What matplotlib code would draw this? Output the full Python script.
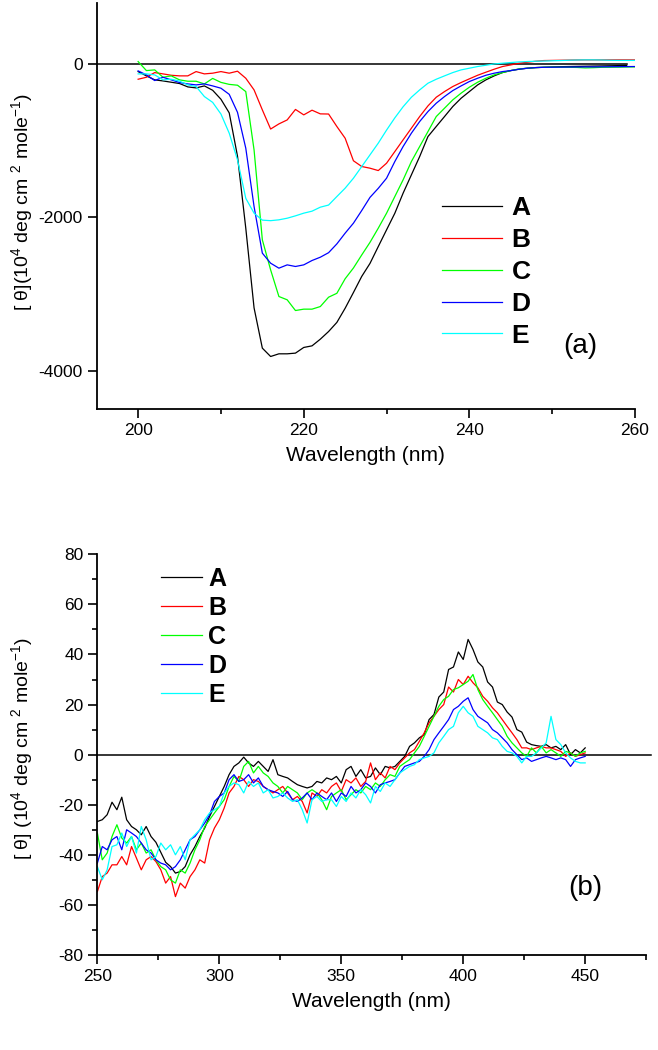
import numpy as np
import matplotlib.pyplot as plt
from matplotlib.ticker import MultipleLocator

plt.rcParams['font.family'] = ['Liberation Sans', 'DejaVu Sans']
plt.rcParams['mathtext.fontset'] = 'custom'
plt.rcParams['mathtext.rm'] = 'Liberation Sans'
plt.rcParams['mathtext.it'] = 'Liberation Sans:italic'
plt.rcParams['mathtext.bf'] = 'Liberation Sans:bold'
plt.rcParams['axes.unicode_minus'] = False

# (a) far-UV CD spectra, 1 nm steps
wl_a = np.arange(200, 261)
a_A = [-96, -152, -204, -218, -235, -252, -296, -309, -283, -340, -457, -635, -1200, -2140,
       -3180, -3706, -3815, -3780, -3780, -3771, -3697, -3676, -3589, -3489, -3370, -3185,
       -2980, -2770, -2600, -2380, -2162, -1945, -1683, -1444, -1205, -944, -813, -683, -552,
       -444, -357, -270, -204, -152, -109, -83, -65, -52, -44, -39, -35, -32, -30, -28, -26,
       -24, -22, -20, -18, -15]
a_B = [-196, -170, -109, -126, -144, -152, -152, -96, -126, -117, -96, -117, -91, -183,
       -335, -596, -846, -779, -727, -590, -661, -600, -648, -650, -813, -966, -1260, -1335,
       -1357, -1388, -1292, -1140, -987, -835, -683, -544, -431, -357, -291, -239, -191, -144,
       -104, -65, -30, -9, 13, 26, 39, 48, 50, 52, 54, 56, 57, 57, 57, 57, 57, 57, 57]
a_C = [35, -83, -74, -170, -152, -204, -222, -222, -257, -185, -237, -263, -274, -357,
       -1118, -2292, -2684, -3032, -3075, -3215, -3197, -3197, -3163, -3041, -2990, -2800,
       -2660, -2490, -2325, -2140, -1945, -1727, -1509, -1270, -1074, -879, -683, -574, -465,
       -378, -300, -235, -183, -139, -109, -83, -61, -52, -44, -40, -39, -39, -40, -42, -48,
       -45, -40, -39, -38, -36, -35]
a_D = [-87, -139, -213, -170, -204, -239, -257, -270, -257, -283, -313, -393, -628, -1096,
       -1857, -2466, -2597, -2662, -2619, -2640, -2619, -2562, -2519, -2460, -2345, -2205,
       -2075, -1910, -1738, -1620, -1488, -1270, -1074, -900, -748, -618, -509, -422, -344,
       -283, -226, -183, -144, -117, -96, -83, -65, -52, -44, -40, -39, -38, -37, -36, -35,
       -35, -34, -33, -32, -31, -30]
a_E = [-126, -126, -139, -204, -196, -220, -270, -291, -422, -498, -650, -900, -1248, -1750,
       -1944, -2035, -2042, -2031, -2010, -1979, -1944, -1918, -1866, -1838, -1727, -1618,
       -1488, -1336, -1183, -1030, -860, -700, -555, -431, -335, -248, -196, -152, -109, -74,
       -52, -30, -13, 4, 13, 22, 30, 35, 39, 42, 45, 48, 52, 55, 57, 57, 55, 52, 50, 50, 50]

# (b) near-UV / Soret CD spectra, 2 nm steps
wl_b = np.arange(250, 451, 2)
b_A = [-26.7, -26, -24, -19, -22, -17, -26, -28.7, -30, -32, -28.7, -32.7, -35, -39, -43,
       -44.7, -47.3, -46.7, -44.7, -40, -36.7, -32.7, -29.3, -24.7, -20.7, -16.7, -12.7, -8,
       -4.7, -3.3, -1, -3.3, -4.7, -2.7, -4.7, -6.7, -2, -8, -8.7, -9.3, -10.7, -12, -12.7,
       -13.3, -12.7, -10.7, -11.3, -9.3, -10, -8.7, -11.3, -6, -4.7, -8.7, -6, -9.3, -8.7,
       -5.3, -8, -4.7, -5.3, -4.7, -2.7, -0.7, 3.3, 4.7, 6.7, 8, 14, 16, 23, 25, 34, 35, 41,
       38, 46, 42, 37, 35, 29, 27, 21, 20, 17, 15, 10, 9, 5, 4, 3.6, 3.3, 4, 2.7, 3.3, 2, 4,
       0, 2, 0.7, 2.7]
b_B = [-54.7, -48.7, -47.3, -44, -44, -40.7, -44, -36.7, -41.3, -46, -42, -40.7, -42.7, -46,
       -51.3, -48.7, -56.7, -51.3, -53.3, -48.7, -46, -42, -43.3, -34, -29.3, -26, -21.3,
       -15.3, -12.7, -8.7, -10, -12.7, -10, -10.7, -12.7, -14, -15.3, -14, -12.7, -15.3, -18,
       -16.7, -18.7, -23.3, -15.3, -16.7, -14, -15.3, -12.7, -11.3, -14.7, -10, -11.3, -9.3,
       -12.7, -10.7, -3.3, -10, -7.3, -9.3, -4.7, -6, -3.3, -1.3, 0.7, 2, 5.3, 8.7, 12.7,
       15.3, 18, 20, 27, 25, 30, 28, 31.3, 28.7, 26.7, 23.3, 21.3, 18.7, 16.7, 14, 11.3, 8.7,
       6, 2.7, 2.7, 2, 2.7, 3.3, 2.7, 2.7, 2, 1.3, -0.7, 0.7, -0.7, 0, 0.7]
b_C = [-31.3, -42, -39.3, -32.7, -28, -33.3, -35.3, -32.7, -38, -35.3, -39.3, -38, -42,
       -44.7, -46, -50, -51.3, -46, -47.3, -43.3, -38, -34, -28.7, -26, -23.3, -20.7, -18,
       -12.7, -8.7, -10.7, -4.7, -2.7, -7.3, -4.7, -7.3, -8.7, -11.3, -12.7, -15.3, -12.7,
       -14, -15.3, -18, -15.3, -14, -15.3, -18, -22, -16.7, -15.3, -14, -18, -16, -14, -15.3,
       -12.7, -14, -11.3, -12.7, -10, -8, -8.7, -4.7, -3.3, -2, 0.7, 3.3, 7.3, 11.3, 15.3,
       19.3, 22, 23.3, 26, 26.7, 28, 29.3, 32, 26, 22, 19.3, 16.7, 14, 11.3, 7.3, 4.7, 2.7,
       0.7, -0.7, 2.7, 0.7, 3.3, 0.7, 2, 0.7, -0.7, 1.3, 0.7, -0.7, 0.7, 1.3]
b_D = [-43.3, -36.7, -38, -34, -32.7, -38, -30, -31.3, -32.7, -35.3, -38, -39.3, -42,
       -43.3, -44, -46, -44.7, -42, -38, -34, -32.7, -30, -27.3, -24, -18.7, -16.7, -15.3,
       -10, -8, -10.7, -10, -8, -11.3, -9.3, -12.7, -14, -14.7, -15.3, -16.7, -14.7, -18,
       -18.7, -17.3, -15.3, -18, -15.3, -16.7, -18, -15.3, -18.7, -15.3, -16.7, -12.7, -15.3,
       -14, -11.3, -12.7, -15.3, -12, -11.3, -10.7, -10, -7.3, -4.7, -4, -3.3, -2.7, -0.7, 2,
       6, 8.7, 11.3, 14, 18, 19.3, 21.3, 22.7, 18, 15.3, 14, 12.7, 10, 8.7, 6.7, 4.7, 2, 0,
       -2, -1.3, -2.7, -2, -1.3, -0.7, -1.3, -2, -1.3, -2, -4.7, -2, -1.3, -0.7]
b_E = [-44.7, -50, -46, -36.7, -36, -31.3, -36.7, -32.7, -39.3, -28.7, -34, -42, -40.7,
       -35.3, -38, -36, -40, -36.7, -42, -34, -32, -30, -26, -23.3, -22, -20.7, -15.3, -12.7,
       -11.3, -12, -15.3, -10.7, -12.7, -11.3, -15.3, -14, -17.3, -16.7, -15.3, -17.3, -18.7,
       -18, -22, -27.3, -18, -16.7, -18.7, -18, -18, -20.7, -16.7, -18.7, -15.3, -17.3, -14,
       -16, -19.3, -12.7, -14.7, -11.3, -12.7, -10, -7.3, -6, -4.7, -4, -2, -1.3, -0.7, 0.7,
       4.7, 7.3, 10, 11.3, 16.7, 19.3, 16.7, 15.3, 11.3, 10, 8.7, 6.7, 6, 3.3, 1.3, 0.7, -0.7,
       -3.3, -0.7, -0.7, 0.7, 2.7, 4.7, 15.3, 6, 4, 0.7, -1.3, -2.7, -3.3, -3.3]

labels = ['A', 'B', 'C', 'D', 'E']
colors = ['#000000', '#ff0000', '#00ff00', '#0000ff', '#00ffff']

fig = plt.figure(figsize=(6.58, 10.5), dpi=100)
ax1 = fig.add_axes([0.147, 0.6105, 0.818, 0.3867])
ax2 = fig.add_axes([0.148, 0.0905, 0.834, 0.3816])

for ax in (ax1, ax2):
    for s in ('top', 'right'):
        ax.spines[s].set_visible(False)
    for s in ('left', 'bottom'):
        ax.spines[s].set_linewidth(1.3)
    ax.tick_params(which='major', direction='out', length=6.5, width=1.2, labelsize=12.5)
    ax.tick_params(which='minor', direction='out', length=3.5, width=1.2)

# top panel
ax1.axhline(0, xmin=0, xmax=(259 - 195) / 65, color='black', lw=1.1)
ax1.plot(wl_a[:len(a_A)], a_A, color=colors[0], lw=0.9, label=labels[0])
for y, c, lab in zip([a_B, a_C, a_D, a_E], colors[1:], labels[1:]):
    ax1.plot(wl_a, y, color=c, lw=0.9, label=lab)
ax1.set_xlim(195, 260)
ax1.set_ylim(-4500, 800)
ax1.xaxis.set_major_locator(MultipleLocator(20))
ax1.xaxis.set_minor_locator(MultipleLocator(10))
ax1.yaxis.set_major_locator(MultipleLocator(2000))
ax1.set_xlabel('Wavelength (nm)', fontsize=15, labelpad=6)
ax1.legend(loc='upper left', bbox_to_anchor=(442 / 658, 1 - 196 / 1050),
           bbox_transform=fig.transFigure, frameon=False, borderpad=0, borderaxespad=0,
           handlelength=2.26, handletextpad=0.37, labelspacing=0.3,
           prop={'weight': 'bold', 'size': 19})
ax1.text(580 / 658, 1 - 346 / 1050, '(a)', transform=fig.transFigure, fontsize=20,
         ha='center', va='center')
fig.text(22 / 658, 1 - 202 / 1050, r'[ θ](10$^{4}$ deg cm $^{2}$ mole$^{-1}$)',
         rotation=90, ha='center', va='center', fontsize=14)

# bottom panel
ax2.axhline(0, xmin=0, xmax=(477 - 250) / 225, color='black', lw=1.1, clip_on=False)
for y, c, lab in zip([b_A, b_B, b_C, b_D, b_E], colors, labels):
    ax2.plot(wl_b, y, color=c, lw=0.9, label=lab)
ax2.set_xlim(250, 475)
ax2.set_ylim(-80, 80)
ax2.xaxis.set_major_locator(MultipleLocator(50))
ax2.xaxis.set_minor_locator(MultipleLocator(25))
ax2.yaxis.set_major_locator(MultipleLocator(20))
ax2.yaxis.set_minor_locator(MultipleLocator(10))
ax2.set_xlabel('Wavelength (nm)', fontsize=15, labelpad=6)
ax2.legend(loc='upper left', bbox_to_anchor=(161 / 658, 1 - 567 / 1050),
           bbox_transform=fig.transFigure, frameon=False, borderpad=0, borderaxespad=0,
           handlelength=1.64, handletextpad=0.24, labelspacing=0.2,
           prop={'weight': 'bold', 'size': 18})
ax2.text(585 / 658, 1 - 888 / 1050, '(b)', transform=fig.transFigure, fontsize=20,
         ha='center', va='center')
fig.text(22 / 658, 1 - 748 / 1050, r'[ θ] (10$^{4}$ deg cm $^{2}$ mole$^{-1}$)',
         rotation=90, ha='center', va='center', fontsize=14)

fig.savefig('out.png', dpi=100)
